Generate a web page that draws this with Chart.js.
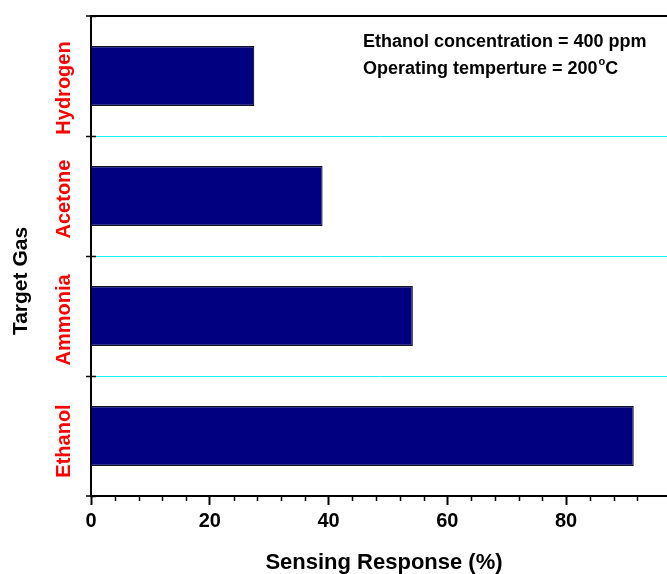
<!DOCTYPE html>
<html>
<head>
<meta charset="utf-8">
<script src="https://cdn.jsdelivr.net/npm/chart.js@4.4.1/dist/chart.umd.min.js"></script>
<style>
  html, body { margin: 0; padding: 0; background: #fff; }
  #wrap { width: 667px; height: 574px; position: relative; }
</style>
</head>
<body>
<div id="wrap"><canvas id="c"></canvas></div>
<script>
// ---- data ----
const gases = ['Ethanol', 'Ammonia', 'Acetone', 'Hydrogen'];
const response = [91.4, 54.2, 39.0, 27.5];
const xTickLabels = [0, 20, 40, 60, 80];
const xMinorStep = 4;
const xMax = 97;
const annotationLines = ['Ethanol concentration = 400 ppm', 'Operating temperture = 200'];
const xTitle = 'Sensing Response (%)';
const yTitle = 'Target Gas';

const FONT = '"Liberation Sans", Arial, Helvetica, sans-serif';
// small vertical nudges of the rotated category labels (style only)
const labelNudge = [5, 4, 3, 12];

const extras = {
  id: 'extras',
  afterDraw(chart) {
    const ctx = chart.ctx;
    const xs = chart.scales.x, ys = chart.scales.y;
    const area = chart.chartArea;
    ctx.save();
    // minor x ticks
    ctx.strokeStyle = '#000';
    ctx.lineWidth = 1.5;
    xs.ticks.forEach(t => {
      if (!xTickLabels.includes(t.value)) {
        const px = Math.round(xs.getPixelForValue(t.value)) + 0.5;
        ctx.beginPath();
        ctx.moveTo(px, area.bottom);
        ctx.lineTo(px, area.bottom + 5);
        ctx.stroke();
      }
    });
    // y boundary ticks crossing into plot
    for (let i = 0; i <= gases.length; i++) {
      const py = Math.round(ys.getPixelForValue(i - 0.5)) + 0.5;
      ctx.beginPath();
      ctx.moveTo(area.left, py);
      ctx.lineTo(area.left + 5, py);
      ctx.stroke();
    }
    // category labels (rotated, red)
    ctx.fillStyle = '#ff0000';
    ctx.font = 'bold 20px ' + FONT;
    ctx.textAlign = 'center';
    ctx.textBaseline = 'middle';
    gases.forEach((g, i) => {
      const py = ys.getPixelForValue(i) + (labelNudge[i] || 0);
      ctx.save();
      ctx.translate(64, py);
      ctx.rotate(-Math.PI / 2);
      ctx.fillText(g, 0, 0);
      ctx.restore();
    });
    // axis titles
    ctx.fillStyle = '#000';
    ctx.font = 'bold 21px ' + FONT;
    ctx.save();
    ctx.translate(21, 281);
    ctx.rotate(-Math.PI / 2);
    ctx.fillText(yTitle, 0, 0);
    ctx.restore();
    ctx.font = 'bold 22px ' + FONT;
    ctx.fillText(xTitle, 384, 563);
    // annotation
    ctx.textAlign = 'left';
    ctx.textBaseline = 'alphabetic';
    ctx.font = 'bold 18px ' + FONT;
    const ax = 363;
    ctx.fillText(annotationLines[0], ax, 47);
    ctx.fillText(annotationLines[1], ax, 74);
    let w = ctx.measureText(annotationLines[1]).width;
    ctx.font = 'bold 11px ' + FONT;
    ctx.fillText('o', ax + w + 1, 65);
    const wo = ctx.measureText('o').width;
    ctx.font = 'bold 18px ' + FONT;
    ctx.fillText('C', ax + w + wo + 1, 74);
    ctx.restore();
  }
};

new Chart(document.getElementById('c'), {
  type: 'bar',
  data: {
    labels: gases,
    datasets: [{
      data: response,
      backgroundColor: '#000080',
      borderColor: '#111122',
      borderWidth: 1.2,
      barPercentage: 0.5,
      categoryPercentage: 1.0
    }]
  },
  options: {
    indexAxis: 'y',
    responsive: true,
    maintainAspectRatio: false,
    devicePixelRatio: 1,
    animation: false,
    layout: { padding: { top: 16, left: 0, right: 0, bottom: 0 } },
    plugins: { legend: { display: false }, tooltip: { enabled: false } },
    scales: {
      x: {
        type: 'linear',
        min: 0,
        max: xMax,
        afterBuildTicks: s => { s.ticks = s.ticks.filter(t => t.value % xMinorStep === 0); },
        afterFit: s => { s.height = 78; },
        ticks: {
          stepSize: xMinorStep,
          autoSkip: false,
          maxRotation: 0,
          padding: 4,
          color: '#000',
          font: { family: FONT, size: 20, weight: 'bold' },
          callback: v => xTickLabels.includes(v) ? String(v) : ''
        },
        grid: {
          drawOnChartArea: false,
          drawTicks: true,
          tickLength: 9,
          tickWidth: 2,
          tickColor: c => (c.tick && xTickLabels.includes(c.tick.value)) ? '#000' : 'rgba(0,0,0,0)'
        },
        border: { display: true, color: '#000', width: 2 },
        title: { display: false, text: xTitle }
      },
      y: {
        type: 'category',
        reverse: true,
        afterFit: s => { s.width = 91; },
        ticks: { display: false },
        grid: {
          offset: true,
          drawTicks: true,
          tickLength: 5,
          tickWidth: 1.5,
          tickColor: '#000',
          color: c => (c.index === undefined || c.index === 0) ? '#000' : '#22f0f0',
          lineWidth: c => (c.index === undefined || c.index === 0) ? 2 : 1
        },
        border: { display: true, color: '#000', width: 2 },
        title: { display: false, text: yTitle }
      }
    }
  },
  plugins: [extras]
});
</script>
</body>
</html>
